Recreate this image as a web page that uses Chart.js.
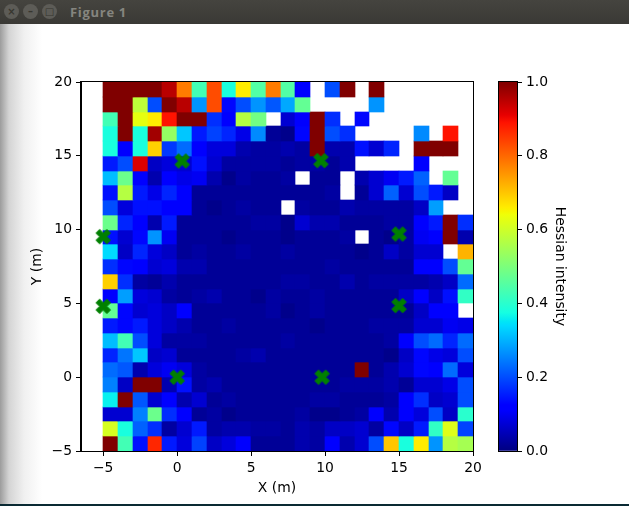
<!DOCTYPE html>
<html>
<head>
<meta charset="utf-8">
<script src="https://cdn.jsdelivr.net/npm/chart.js@4"></script>
<style>
    html, body { margin: 0; padding: 0; background: #fff; overflow: hidden; }
    body { width: 629px; height: 506px; position: relative; font-family: "DejaVu Sans", sans-serif; }
    #shadow { position: absolute; left: 0; top: 24px; width: 44px; height: 480px;
        background: linear-gradient(to right, #9c9c9c, #d4d4d4 9px, #f0f0f0 24px, #fff 42px); }
    #titlebar { position: absolute; left: 0; top: 0; width: 629px; height: 24px;
        background: linear-gradient(#45443f, #3a3935); }
    #titlebar .btn { position: absolute; top: 4px; width: 15px; height: 15px; border-radius: 50%;
        background: #5d5c57; color: #37362f; font: bold 10px/15px "DejaVu Sans"; text-align: center; }
    #titlebar .titulo { position: absolute; left: 70px; top: 3px; color: #85857f; font: bold 13px/18px "Open Sans"; letter-spacing: 0.7px; }
    #fundo { position: absolute; left: 0; top: 504px; width: 629px; height: 2px; background: #0a2a33; }
    #grafico { position: absolute; left: 25px; top: 24px; }
    #barra { position: absolute; left: 490px; top: 24px; }
</style>
</head>
<body>
<div id="shadow"></div>
<div id="titlebar">
    <span class="btn" style="left:4px">×</span>
    <span class="btn" style="left:23px">–</span>
    <span class="btn" style="left:42px">□</span>
    <span class="titulo">Figure 1</span>
</div>
<canvas id="grafico" width="465" height="476"></canvas>
<canvas id="barra" width="82" height="476"></canvas>
<div id="fundo"></div>
<script>
const N = null;
// intensidade por linha, de x = -5 a x = 19
const rowY19 = [1, 1, 1, 1, .95, .78, .43, .83, .38, .66, .45, .78, .45, .11, N, .2, 1, N, 1, N, N, N, N, N, N];
const rowY18 = [1, 1, .58, .2, 1, .95, .27, .83, .13, .2, .27, .21, .29, .47, N, N, N, N, .27, N, N, N, N, N, N];
const rowY17 = [.43, 1, .63, .66, .89, 1, 1, .17, .12, .57, .49, N, .07, .11, 1, .17, N, .13, N, N, N, N, N, N, N];
const rowY16 = [.38, 1, .38, .97, .53, .32, .15, .19, .16, .09, .26, .02, .01, .13, 1, .2, .17, N, N, N, N, .26, N, .89, N];
const rowY15 = [.38, .11, .38, .69, .18, .23, .11, .08, .08, .04, .03, .03, .04, .03, 1, .04, .04, .14, .07, .16, N, 1, 1, 1, N];
const rowY14 = [.15, .2, .92, .06, .08, .07, .14, .07, .03, .03, .03, .03, .02, .03, .03, .02, .04, N, N, N, N, .12, N, N, N];
const rowY13 = [.31, .48, .12, .04, .12, .09, .1, .04, .01, .03, .02, .02, .03, N, .02, .02, N, .04, .07, .1, .15, .22, N, .47, N];
const rowY12 = [.14, .57, .15, .09, .16, .12, .02, .02, .02, .02, .02, .02, .02, .02, .02, .03, N, .02, .07, .22, .07, .2, .15, .06, N];
const rowY11 = [.2, .08, .14, .14, .12, .11, .02, .01, .02, .03, .02, .02, N, .03, .02, .02, .04, .03, .03, .03, .03, .06, .28, N, N];
const rowY10 = [.48, .16, .11, .04, .15, .02, .02, .02, .02, .02, .03, .03, .01, .07, .04, .04, .02, .02, .02, .03, .03, .12, .15, 1, .17];
const rowY9 = [.14, .07, .13, .27, .1, .02, .02, .02, .01, .02, .02, .02, .01, .02, .02, .02, .03, N, .02, .01, .03, .1, .11, 1, .04];
const rowY8 = [.34, .06, .16, .08, .06, .02, .03, .02, .02, .03, .02, .02, .03, .02, .02, .02, .02, .01, .02, .06, .03, .07, .07, N, .72];
const rowY7 = [.17, .13, .12, .07, .08, .04, .04, .02, .02, .02, .02, .02, .02, .02, .02, .03, .02, .02, .02, .02, .02, .11, .11, .2, .47];
const rowY6 = [.69, .17, .03, .02, .04, .02, .02, .02, .02, .02, .02, .02, .03, .03, .02, .02, .04, .02, .03, .03, .03, .03, .04, .06, .23];
const rowY5 = [.12, .28, .08, .07, .03, .02, .03, .04, .02, .02, .01, .03, .02, .02, .03, .02, .02, .02, .02, .02, .06, .12, .06, .14, .41];
const rowY4 = [.47, .13, .07, .08, .06, .12, .02, .02, .02, .02, .02, .03, .01, .02, .03, .02, .02, .02, .02, .02, .02, .06, .12, .12, N];
const rowY3 = [.15, .13, .15, .08, .06, .04, .02, .02, .03, .02, .02, .02, .02, .02, .01, .02, .02, .02, .03, .03, .03, .07, .07, .1, .09];
const rowY2 = [.31, .43, .2, .08, .03, .03, .03, .02, .02, .02, .02, .02, .03, .02, .02, .02, .02, .02, .02, .03, .11, .2, .23, .16, .23];
const rowY1 = [.16, .24, .32, .06, .07, .02, .02, .02, .02, .03, .04, .02, .02, .02, .02, .02, .02, .02, .02, .01, .06, .13, .09, .08, .2];
const rowY0 = [.23, .21, .04, .08, .1, .08, .03, .02, .02, .02, .02, .02, .02, .02, .02, .02, .02, 1, .02, .04, .07, .13, .11, .23, .08];
const rowYm1 = [.25, .06, 1, 1, .04, .14, .03, .04, .02, .02, .02, .02, .02, .02, .02, .02, .03, .03, .03, .04, .02, .07, .07, .09, .2];
const rowYm2 = [.36, 1, .21, .07, .11, .04, .07, .02, .03, .02, .02, .02, .02, .02, .03, .03, .02, .02, .02, .03, .11, .17, .06, .07, .2];
const rowYm3 = [.07, .07, .25, .48, .17, .11, .02, .03, .01, .02, .02, .02, .02, .03, .01, .01, .02, .03, .11, .04, .11, .08, .2, .06, .4];
const rowYm4 = [.61, .38, .22, .17, .03, .07, .15, .03, .04, .04, .03, .03, .02, .04, .03, .06, .06, .07, .03, .13, .06, .15, .41, .62, .19];
const rowYm5 = [1, .43, .14, .87, .15, .08, .19, .06, .08, .11, .02, .02, .02, .04, .03, .11, .04, .07, .2, .7, .38, .66, .27, .57, .55];

const rows = [rowY19, rowY18, rowY17, rowY16, rowY15, rowY14, rowY13, rowY12, rowY11, rowY10, rowY9, rowY8, rowY7,
    rowY6, rowY5, rowY4, rowY3, rowY2, rowY1, rowY0, rowYm1, rowYm2, rowYm3, rowYm4, rowYm5];
const rowBottoms = [19, 18, 17, 16, 15, 14, 13, 12, 11, 10, 9, 8, 7, 6, 5, 4, 3, 2, 1, 0, -1, -2, -3, -4, -5];
const colLefts = [-5, -4, -3, -2, -1, 0, 1, 2, 3, 4, 5, 6, 7, 8, 9, 10, 11, 12, 13, 14, 15, 16, 17, 18, 19];

const markerX = [-5, -5, 0, 9.8, 15, 15, 9.72, 0.34];
const markerY = [4.8, 9.52, 0, 0, 4.85, 9.7, 14.67, 14.65];

const xTicks = [-5, 0, 5, 10, 15, 20];
const yTicks = [-5, 0, 5, 10, 15, 20];
const barTicks = [0, 0.2, 0.4, 0.6, 0.8, 1];

const FONTE = { family: '"DejaVu Sans"', size: 13.9 };

// colormap jet do matplotlib
const JET_R = [[0, 0], [.35, 0], [.66, 1], [.89, 1], [1, .5]];
const JET_G = [[0, 0], [.125, 0], [.375, 1], [.64, 1], [.91, 0], [1, 0]];
const JET_B = [[0, .5], [.11, 1], [.34, 1], [.65, 0], [1, 0]];
const JET_STOPS = [0, .11, .125, .34, .35, .375, .64, .65, .66, .89, .91, 1];

function canal(tabela, v) {
    for (let i = 1; i < tabela.length; i++) {
        if (v <= tabela[i][0]) {
            const [a, ya] = tabela[i - 1];
            const [b, yb] = tabela[i];
            return ya + (yb - ya) * (v - a) / (b - a);
        }
    }
    return tabela[tabela.length - 1][1];
}

function jet(v) {
    const c = [JET_R, JET_G, JET_B].map(t => Math.round(255 * canal(t, v)));
    return `rgb(${c[0]},${c[1]},${c[2]})`;
}

function menos(v) {
    return String(v).replace('-', '\u2212');
}

// marcador X cheio, igual ao 'X' do matplotlib
function criarMarcadorX() {
    const forma = [[-1, -2], [0, -1], [1, -2], [2, -1], [1, 0], [2, 1], [1, 2], [0, 1], [-1, 2], [-2, 1], [-1, 0], [-2, -1]];
    const c = document.createElement('canvas');
    c.width = 17;
    c.height = 17;
    const ctx = c.getContext('2d');
    ctx.translate(8.5, 8.5);
    ctx.beginPath();
    forma.forEach(([x, y]) => ctx.lineTo(x * 3.6, y * 3.6));
    ctx.closePath();
    ctx.fillStyle = '#008000';
    ctx.strokeStyle = '#008000';
    ctx.lineWidth = 1;
    ctx.fill();
    ctx.stroke();
    return c;
}

const datasetsCelulas = rows.map((linha, r) => {
    const pontos = [];
    const cores = [];
    linha.forEach((v, c) => {
        if (v === null) return;
        pontos.push({ x: colLefts[c] + 0.5, y: [rowBottoms[r], rowBottoms[r] + 1] });
        cores.push(jet(v));
    });
    return {
        type: 'bar',
        data: pontos,
        backgroundColor: cores,
        borderWidth: 0,
        barPercentage: 1,
        categoryPercentage: 1,
        grouped: false,
        order: 2
    };
});

const datasetMarcadores = {
    type: 'scatter',
    data: markerX.map((x, i) => ({ x: x, y: markerY[i] })),
    pointStyle: criarMarcadorX(),
    clip: false,
    order: 1
};

// arredonda as barras ao pixel para as celulas ficarem sem emendas
const alinharCelulas = {
    id: 'alinharCelulas',
    beforeDatasetsDraw(chart) {
        const escalaY = chart.scales.y;
        chart.getSortedVisibleDatasetMetas().forEach(meta => {
            if (meta.type !== 'bar') return;
            const dados = chart.data.datasets[meta.index].data;
            meta.data.forEach((bar, i) => {
                const esq = Math.round(bar.x - bar.width / 2);
                const dir = Math.round(bar.x + bar.width / 2);
                bar.x = (esq + dir) / 2;
                bar.width = dir - esq;
                bar.y = Math.round(escalaY.getPixelForValue(dados[i].y[1]));
                bar.base = Math.round(escalaY.getPixelForValue(dados[i].y[0]));
                bar.height = bar.base - bar.y;
            });
        });
    }
};

const moldura = {
    id: 'moldura',
    afterDraw(chart) {
        const a = chart.chartArea;
        const ctx = chart.ctx;
        ctx.save();
        ctx.strokeStyle = '#000';
        ctx.lineWidth = 1;
        ctx.strokeRect(Math.round(a.left) - 0.5, Math.round(a.top) - 0.5, Math.round(a.width) + 1, Math.round(a.height) + 1);
        ctx.restore();
    }
};

function eixo(extra, ticks, tamanho, lado) {
    return Object.assign({
        type: 'linear',
        offset: false,
        afterBuildTicks: s => { s.ticks = ticks.map(v => ({ value: v })); },
        afterFit: s => { s[lado] = tamanho; },
        border: { display: true, color: '#000', width: 1 },
        grid: { drawOnChartArea: false, drawTicks: true, tickLength: 5, color: '#000', offset: false },
    }, extra);
}

new Chart(document.getElementById('grafico'), {
    type: 'bar',
    data: { datasets: [...datasetsCelulas, datasetMarcadores] },
    options: {
        responsive: false,
        animation: false,
        layout: { autoPadding: false, padding: { top: 58, right: 17, left: 0, bottom: 0 } },
        plugins: { legend: { display: false }, tooltip: { enabled: false } },
        scales: {
            x: eixo({
                min: -6.5, max: 20,
                ticks: { color: '#000', font: FONTE, padding: 4, maxRotation: 0, autoSkip: false, callback: menos },
                title: { display: true, text: 'X (m)', color: '#000', font: FONTE, padding: { top: 2, bottom: 3 } }
            }, xTicks, 49, 'height'),
            y: eixo({
                min: -5, max: 20,
                ticks: { color: '#000', font: FONTE, padding: 4, autoSkip: false, callback: menos },
                title: { display: true, text: 'Y (m)', color: '#000', font: FONTE, padding: { top: 4, bottom: 2 } }
            }, yTicks, 56, 'width')
        }
    },
    plugins: [alinharCelulas, moldura]
});

// barra de cores: uma barra flutuante de 0 a 1 com gradiente jet
function gradienteJet(context) {
    const a = context.chart.chartArea;
    if (!a) return '#000';
    const g = context.chart.ctx.createLinearGradient(0, a.bottom, 0, a.top);
    JET_STOPS.forEach(s => g.addColorStop(s, jet(s)));
    return g;
}

new Chart(document.getElementById('barra'), {
    type: 'bar',
    data: {
        labels: ['intensidade'],
        datasets: [{
            data: [[0, 1]],
            backgroundColor: gradienteJet,
            borderWidth: 0,
            barPercentage: 1,
            categoryPercentage: 1
        }]
    },
    options: {
        responsive: false,
        animation: false,
        layout: { autoPadding: false, padding: { top: 58, left: 9, right: 0, bottom: 49 } },
        plugins: { legend: { display: false }, tooltip: { enabled: false } },
        scales: {
            x: { display: false },
            y: eixo({
                position: 'right',
                min: 0, max: 1,
                ticks: { color: '#000', font: FONTE, padding: 4, autoSkip: false, callback: v => v.toFixed(1) },
                title: { display: true, text: 'Hessian intensity', color: '#000', font: FONTE }
            }, barTicks, 55, 'width')
        }
    },
    plugins: [moldura]
});
</script>
</body>
</html>
